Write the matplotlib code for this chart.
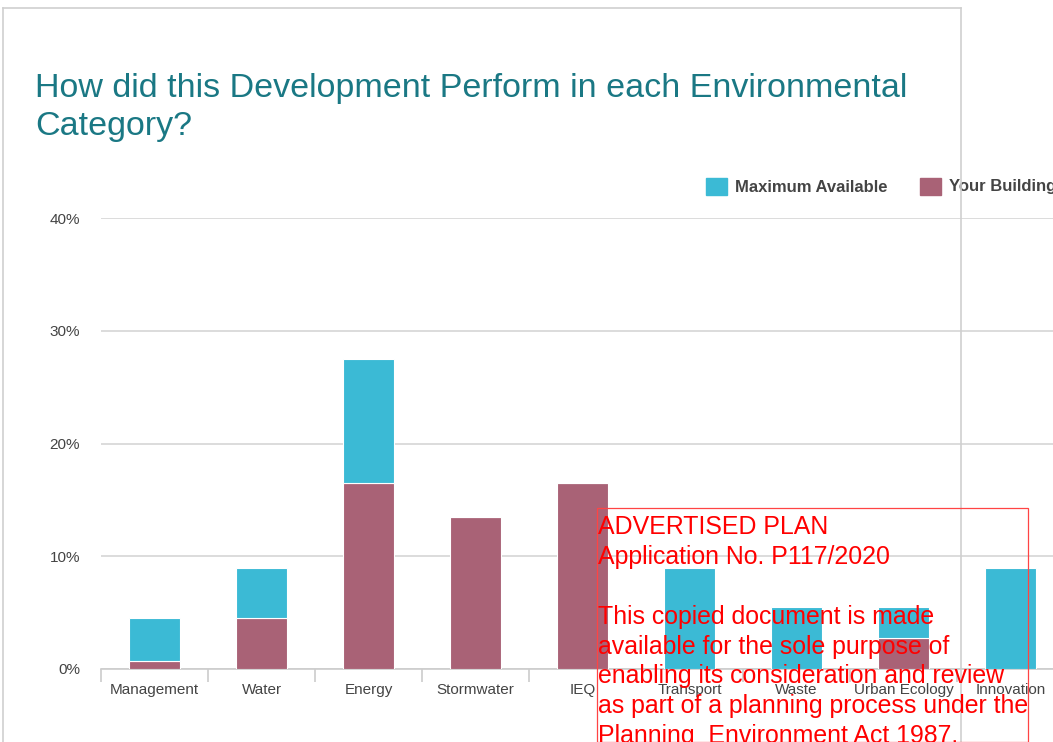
import matplotlib
matplotlib.use("Agg")
import matplotlib.pyplot as plt
from matplotlib.patches import Rectangle
from matplotlib.lines import Line2D
import numpy as np

plt.rcParams["font.family"] = ["Liberation Sans", "DejaVu Sans"]

categories = ["Management", "Water", "Energy", "Stormwater", "IEQ",
              "Transport", "Waste", "Urban Ecology", "Innovation"]
max_available = [4.5, 9.0, 27.5, 13.5, 16.5, 9.0, 5.5, 5.5, 9.0]
your_building = [0.7, 4.5, 16.5, 13.5, 16.5, 0.0, 0.0, 2.75, 0.0]
y_ticks = [0, 10, 20, 30, 40]
y_tick_labels = ["0%", "10%", "20%", "30%", "40%"]

W, H = 1053, 742
fig = plt.figure(figsize=(W / 100, H / 100), dpi=100)

def fx(x):
    return x / W

def fy(y):
    return 1 - y / H

CYAN = "#3bbad5"
MAROON = "#a96276"
GRID = "#d6d6d6"

# card border
fig.add_artist(Line2D([fx(3), fx(961)], [fy(8), fy(8)], color="#cfcfcf", lw=1.2))
fig.add_artist(Line2D([fx(3), fx(3)], [fy(8), fy(742)], color="#cfcfcf", lw=1.2))
fig.add_artist(Line2D([fx(961), fx(961)], [fy(8), fy(742)], color="#cfcfcf", lw=1.2, zorder=5))

# axes
left, right, top, bottom = 101, 1064, 218, 669
ax = fig.add_axes([fx(left), fy(bottom), fx(right - left), (bottom - top) / H])
x = np.arange(len(categories))
width = 0.47
remaining = [m - y for m, y in zip(max_available, your_building)]
ax.bar(x, your_building, width, color=MAROON, edgecolor="white", linewidth=0.8, zorder=3)
ax.bar(x, remaining, width, bottom=your_building, color=CYAN, edgecolor="white", linewidth=0.8, zorder=3)

ax.set_xlim(-0.5, len(categories) - 0.5)
ax.set_ylim(0, 40)
ax.set_yticks(y_ticks)
ax.set_yticklabels(y_tick_labels, fontsize=11, color="#444444")
ax.yaxis.grid(True, color=GRID, lw=1.2, zorder=0)
ax.tick_params(axis="y", length=0, pad=15)
ax.set_xticks(x)
ax.set_xticklabels(categories, fontsize=11, color="#444444")
ax.tick_params(axis="x", length=0, pad=10)
ax.set_xticks(np.arange(len(categories) + 1) - 0.5, minor=True)
ax.tick_params(axis="x", which="minor", length=9, color="#cccccc", width=1.2)
for s in ["top", "right", "left"]:
    ax.spines[s].set_visible(False)
ax.spines["bottom"].set_color("#cccccc")
ax.spines["bottom"].set_linewidth(1.2)
ax.set_facecolor("none")

# title
fig.text(fx(35), fy(73), "How did this Development Perform in each Environmental\nCategory?",
         fontsize=24.5, color="#1a7884", va="top", ha="left", linespacing=1.3)

# legend
fig.add_artist(Rectangle((fx(706), fy(195)), fx(21), 17 / H, color=CYAN, transform=fig.transFigure))
fig.text(fx(735), fy(187), "Maximum Available", fontsize=12, fontweight="bold",
         color="#444444", va="center", ha="left")
fig.add_artist(Rectangle((fx(920), fy(195)), fx(21), 17 / H, color=MAROON, transform=fig.transFigure))
fig.text(fx(949), fy(187), "Your Building", fontsize=12, fontweight="bold",
         color="#444444", va="center", ha="left")

# watermark
fig.add_artist(Rectangle((fx(597), fy(742)), fx(1028 - 597), (742 - 508) / H,
                         fill=False, edgecolor="#ff4444", lw=0.9, transform=fig.transFigure, zorder=10))
wm_lines = ["ADVERTISED PLAN", "Application No. P117/2020", "",
            "This copied document is made", "available for the sole purpose of",
            "enabling its consideration and review", "as part of a planning process under the",
            "Planning  Environment Act 1987."]
fig.text(fx(598), fy(515), "\n".join(wm_lines), fontsize=17.9, color="#ff0000",
         va="top", ha="left", linespacing=1.31, zorder=11)

fig.savefig("out.png", dpi=100)
